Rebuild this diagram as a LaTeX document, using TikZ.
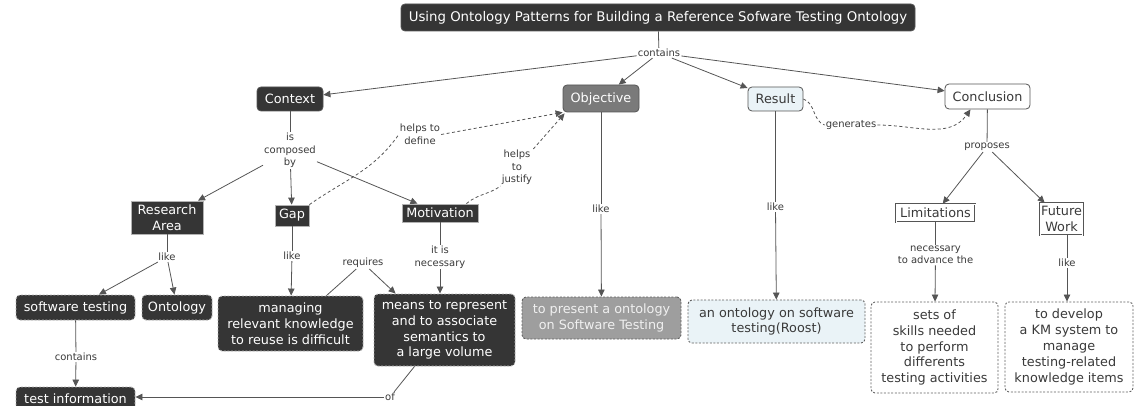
\documentclass[tikz,border=0pt]{standalone}
\usepackage{fontspec}
\setmainfont{DejaVu Sans}
\usetikzlibrary{arrows.meta}

\definecolor{darkfill}{HTML}{353535}
\definecolor{objfill}{HTML}{7A7A7A}
\definecolor{presfill}{HTML}{9E9E9E}
\definecolor{resfill}{HTML}{EAF3F7}
\definecolor{edgegray}{HTML}{555555}
\definecolor{lblgray}{HTML}{3A3A3A}

\tikzset{
  base/.style={align=center, inner sep=1pt, font=\fontsize{12.8}{15.8}\selectfont, text=lblgray},
  roundbox/.style={base, rounded corners=4pt, draw=edgegray, line width=0.8pt},
  darkround/.style={roundbox, fill=darkfill, text=white},
  darkrect/.style={base, fill=darkfill, draw=gray!60, line width=0.8pt, text=white},
  whiterect/.style={base, fill=white, draw=edgegray, line width=0.5pt, double=white, double distance=0.8pt},
  dashbox/.style={base, rounded corners=4pt, draw=gray!75!black, line width=0.9pt, dash pattern=on 2pt off 1.6pt},
  darkdash/.style={dashbox, fill=darkfill, text=white, draw=gray!60},
  lbl/.style={fill=white, inner sep=1pt, align=center, font=\fontsize{10}{12.5}\selectfont, text=lblgray},
  conn/.style={draw=edgegray, line width=0.8pt},
  arr/.style={conn, -{Triangle[length=7pt,width=6.5pt]}},
  dconn/.style={conn, dash pattern=on 3pt off 2.5pt},
  darr/.style={dconn, -{Triangle[length=7pt,width=6.5pt]}}
}

\begin{document}
\begin{tikzpicture}[x=1pt,y=-1pt]
\useasboundingbox (0,0) rectangle (1135,406);
\clip (0,0) rectangle (1135,406);

% top concept
\node[darkround, minimum width=514pt, minimum height=27pt, font=\fontsize{13.3}{15}\selectfont] (title) at (658,17.5)
  {Using Ontology Patterns for Building a Reference Sofware Testing Ontology};

% second level
\node[darkround, minimum width=66pt, minimum height=24pt] (context) at (290,99) {Context};
\node[roundbox, fill=objfill, text=white, minimum width=76pt, minimum height=27pt] (objective) at (601,98.5) {Objective};
\node[roundbox, fill=resfill, minimum width=55pt, minimum height=24pt] (result) at (775.5,99) {Result};
\node[roundbox, fill=white, minimum width=85pt, minimum height=25pt] (conclusion) at (987.5,96.5) {Conclusion};

% third level
\node[darkrect, minimum width=72pt, minimum height=33pt] (research) at (167,217.5) {Research\\Area};
\node[darkrect, minimum width=34pt, minimum height=21pt] (gap) at (292,215.5) {Gap};
\node[darkrect, minimum width=76pt, minimum height=18pt] (motivation) at (440,213) {Motivation};
\node[whiterect, minimum width=79pt, minimum height=18pt] (limitations) at (935.5,213) {Limitations};
\node[whiterect, minimum width=41pt, minimum height=32pt] (future) at (1061.5,219) {Future\\Work};

% leaves
\node[darkdash, minimum width=119pt, minimum height=25pt] (swtesting) at (75.5,307.5) {software testing};
\node[darkdash, minimum width=70pt, minimum height=25pt] (ontology) at (177,307.5) {Ontology};
\node[darkdash, minimum width=145pt, minimum height=55pt] (managing) at (290.5,323.5)
  {managing\\relevant knowledge\\to reuse is difficult};
\node[darkdash, minimum width=141pt, minimum height=72pt] (means) at (444.5,330)
  {means to represent\\and to associate\\semantics to\\a large volume};
\node[dashbox, fill=presfill, text=gray!12, minimum width=159pt, minimum height=42pt] (present) at (601.5,318)
  {to present a ontology\\on Software Testing};
\node[dashbox, fill=resfill, minimum width=177pt, minimum height=43pt] (roost) at (776.5,321.5)
  {an ontology on software\\testing(Roost)};
\node[dashbox, fill=white, minimum width=127pt, minimum height=91pt] (skills) at (934.5,347.5)
  {sets of\\skills needed\\to perform\\differents\\testing activities};
\node[dashbox, fill=white, minimum width=128pt, minimum height=90pt] (develop) at (1069,347)
  {to develop\\a KM system to\\manage\\testing-related\\knowledge items};
\node[darkdash, minimum width=119pt, minimum height=24pt] (testinfo) at (75.5,399) {test information};

% linking phrases
\node[lbl] (lcontains) at (659,53) {contains};
\node[lbl] (lcomposed) at (290,150.5) {is\\composed\\by};
\node[lbl] (ldefine) at (420,134.5) {helps to\\define};
\node[lbl] (ljustify) at (517,167.5) {helps\\to\\justify};
\node[lbl] (lgenerates) at (851,125) {generates};
\node[lbl] (lproposes) at (987,147) {proposes};
\node[lbl] (llikera) at (167,257) {like};
\node[lbl] (llikegap) at (292,256) {like};
\node[lbl] (lrequires) at (363,263) {requires};
\node[lbl] (lnecessary) at (440,257) {it is\\necessary};
\node[lbl] (llikeobj) at (601,209) {like};
\node[lbl] (llikeres) at (775.5,207) {like};
\node[lbl] (ladvance) at (935.5,255) {necessary\\to advance the};
\node[lbl] (llikefw) at (1067,263) {like};
\node[lbl] (lcontst) at (76,357) {contains};
\node[lbl] (lof) at (390,397) {of};

% connectors
\draw[conn] (title) -- (lcontains);
\draw[arr] (lcontains) -- (context);
\draw[arr] (lcontains) -- (objective);
\draw[arr] (lcontains) -- (result);
\draw[arr] (lcontains) -- (conclusion);

\draw[conn] (context) -- (lcomposed);
\draw[arr] (lcomposed) -- (research);
\draw[arr] (lcomposed) -- (gap);
\draw[arr] (lcomposed) -- (motivation);

\draw[dconn] (gap.north east) to[out=35,in=235] (ldefine.west);
\draw[darr] (ldefine.east) -- (objective.south west);
\draw[dconn] ([xshift=-12pt]motivation.north east) to[out=40,in=215] (ljustify.south west);
\draw[darr] (ljustify.north east) -- ([xshift=2pt,yshift=-1pt]objective.south west);

\draw[dconn] (result.east) to[out=-20,in=160] (lgenerates.west);
\draw[darr] (lgenerates.east) to[out=0,in=235] ([xshift=-17pt]conclusion.south);

\draw[conn] (conclusion) -- (lproposes);
\draw[arr] (lproposes) -- (limitations);
\draw[arr] (lproposes) -- (future);

\draw[conn] (research) -- (llikera);
\draw[arr] (llikera) -- (swtesting);
\draw[arr] (llikera) -- (ontology);

\draw[conn] (gap) -- (llikegap);
\draw[arr] (llikegap) -- (managing);

\draw[conn] ([xshift=36pt]managing.north) -- (lrequires);
\draw[arr] (lrequires) -- ([xshift=22pt]means.north west);

\draw[conn] (motivation) -- (lnecessary);
\draw[arr] (lnecessary) -- (means.north -| lnecessary);

\draw[conn] (objective) -- (llikeobj);
\draw[arr] (llikeobj) -- (present);

\draw[conn] (result) -- (llikeres);
\draw[arr] (llikeres) -- (roost);

\draw[conn] (limitations) -- (ladvance);
\draw[arr] (ladvance) -- (skills);

\draw[conn] (future.south -| llikefw) -- (llikefw);
\draw[arr] (llikefw) -- (develop.north -| llikefw);

\draw[conn] (swtesting) -- (lcontst);
\draw[arr] (lcontst) -- (testinfo);

\draw[conn] ([xshift=-30pt]means.south) -- (lof);
\draw[arr] (lof) -- (testinfo.east |- lof);
\end{tikzpicture}
\end{document}
